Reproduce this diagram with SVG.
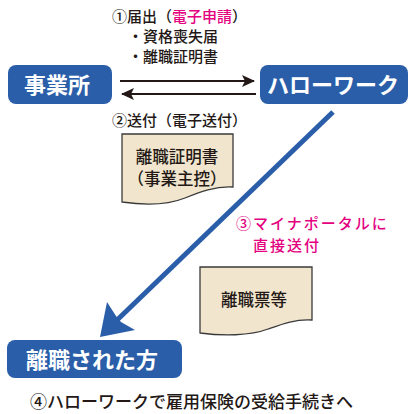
<svg xmlns="http://www.w3.org/2000/svg" width="415" height="414" viewBox="0 0 415 414">
<style>
.box{fill:#2a5ea9}
.bt{font-family:"Noto Sans CJK JP",sans-serif;font-weight:bold;font-size:22px;fill:#fff;text-anchor:middle}
.t{font-family:"Noto Sans CJK JP",sans-serif;font-weight:500;font-size:15px;fill:#231815}
.t17{font-size:17px}
.t3{font-size:15px;letter-spacing:2px}
.m{fill:#e4007f}
.doc{fill:#f1e6cd;stroke:#3a3a3a;stroke-width:1.3}
.dt{font-family:"Noto Sans CJK JP",sans-serif;font-weight:500;font-size:16.5px;fill:#231815;text-anchor:middle}
.ln{stroke:#231815;stroke-width:2;fill:none}
</style>
<defs>
<marker id="ah" markerWidth="13" markerHeight="12" refX="12" refY="6" orient="auto" markerUnits="userSpaceOnUse">
<path d="M0,0 L13,6 L0,12 L3,6 Z" fill="#231815"/>
</marker>
</defs>
<g id="connectors">
<line class="ln" x1="120" y1="81" x2="254" y2="81" marker-end="url(#ah)"/>
<line class="ln" x1="256" y1="94" x2="122" y2="94" marker-end="url(#ah)"/>
<line x1="333" y1="112" x2="114" y2="323" stroke="#2a5ea9" stroke-width="5"/>
<path d="M100,337 L107,302 L116,316 L121,322 L135,330 Z" fill="#2a5ea9"/>
</g>
<g id="jigyosho">
<rect class="box" x="8" y="65" width="104" height="39" rx="8"/>
<text class="bt" x="57" y="93">事業所</text>
</g>
<g id="hellowork">
<rect class="box" x="260" y="65" width="148" height="39" rx="8"/>
<text class="bt" x="333" y="93">ハローワーク</text>
</g>
<g id="rishoku">
<rect class="box" x="7" y="340" width="175" height="38" rx="8"/>
<text class="bt" x="92" y="368">離職された方</text>
</g>
<g id="label1">
<text class="t" x="112" y="22">①届出（<tspan class="m">電子申請</tspan>）</text>
<text class="t" x="128" y="42">・資格喪失届</text>
<text class="t" x="128" y="62">・離職証明書</text>
</g>
<g id="label2">
<text class="t" x="112" y="126">②送付（電子送付）</text>
</g>
<g id="doc1">
<path class="doc" d="M122,134 H233 V187 C215,186 200,192 185,198 C165,206 142,205 122,202 Z"/>
<text class="dt" x="177" y="163">離職証明書</text>
<text class="dt" x="177" y="185">（事業主控）</text>
</g>
<g id="label3">
<text class="t t3 m" x="236" y="229">③マイナポータルに</text>
<text class="t t3 m" x="253" y="251">直接送付</text>
</g>
<g id="doc2">
<path class="doc" d="M200,267 H312 V320 C295,319 282,324 268,329 C250,336 222,336 200,333 Z"/>
<text class="dt" x="254" y="306">離職票等</text>
</g>
<g id="label4">
<text class="t t17" x="30" y="408">④ハローワークで雇用保険の受給手続きへ</text>
</g>
</svg>
